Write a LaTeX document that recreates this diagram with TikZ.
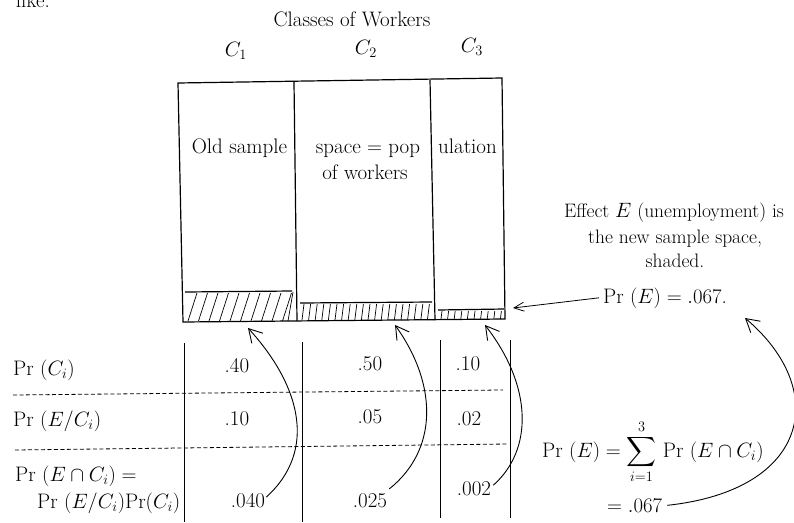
\documentclass[tikz,border=0pt]{standalone}
\usepackage{exscale}
\usetikzlibrary{arrows.meta,calc}
\begin{document}
\begin{tikzpicture}[x=1pt,y=-1pt,
  every node/.style={font=\fontsize{21}{25}\selectfont, inner sep=0pt},
  txt/.style={anchor=base},
  lbl/.style={anchor=base west},
  small/.style={font=\fontsize{19.5}{23}\selectfont},
  frame/.style={line width=1.2pt},
  hatch/.style={line width=0.7pt},
  tline/.style={line width=1pt},
  sep/.style={dash pattern=on 4pt off 2.5pt, line width=0.8pt},
  curvearrow/.style={line width=0.9pt, -{Straight Barb[length=13pt,width=15pt,line width=0.9pt]}},
  pointer/.style={line width=0.8pt, -{Straight Barb[length=10pt,width=9pt,line width=0.8pt]}},
]
\clip (0,0) rectangle (794,522);

% stray fragment at top left
\node[anchor=base east] (like) at (50,7) {like.};

% headings
\node[txt] (title) at (352,27) {Classes of Workers};
\node[txt] (c1) at (236,56) {$C_1$};
\node[txt] (c2) at (366,54) {$C_2$};
\node[txt] (c3) at (472,52) {$C_3$};

% sample space box
\coordinate (tl) at (178,83);
\coordinate (t1) at (294,82);
\coordinate (t2) at (430,80);
\coordinate (tr) at (502,78);
\coordinate (bl) at (183,322);
\coordinate (b1) at (297,321);
\coordinate (b2) at (435,320);
\coordinate (br) at (505,319);
\draw[frame] (bl) -- (tl) -- (tr) -- (br) -- cycle;
\draw[frame] (t1) -- (b1);
\draw[frame] (t2) -- (b2);

\node[txt] (old) at (239.5,153) {Old sample};
\node[txt] (space) at (368,153) {space $=$ pop};
\node[txt] (ul) at (467.5,153) {ulation};
\node[txt] (ofw) at (365,179) {of workers};

% shaded event E
\draw[frame] (185,292) -- (292,291);
\draw[frame] (300,303) -- (432,302);
\draw[frame] (438,310) -- (504,309);
\foreach \i in {0,...,9} \draw[hatch] (188+10.5*\i,321) -- (197+10.5*\i,293);
\draw[hatch] (288,321) -- (293,292);
\foreach \i in {0,...,19} \draw[hatch] (302+6.6*\i,320) -- (304+6.6*\i,304);
\foreach \i in {0,...,9} \draw[hatch] (441+6.6*\i,319) -- (442+6.6*\i,311);

\coordinate (h1) at (248,328);
\coordinate (h2) at (395,325);
\coordinate (h3) at (485,325);
\coordinate (hall) at (513,308);
\coordinate (petip) at (745,318);

% annotation
\node[txt,small] (eff1) at (674,217) {Effect $E$ (unemployment) is};
\node[txt,small] (eff2) at (675,243) {the new sample space,};
\node[txt,small] (eff3) at (675,267) {shaded.};
\node[txt] (pe) at (665,303) {Pr $(E) = .067$.};
\draw[pointer] ([xshift=-4pt]pe.west) -- (hall);

% table
\draw[tline] (184,343) -- (184,522);
\draw[tline] (302,342) -- (302,522);
\draw[tline] (440,340) -- (440,518);
\draw[tline] (510,340) -- (510,518);
\draw[sep] (13,395) -- (503,390);
\draw[sep] (15,450) -- (508,444);

\node[lbl] (r1) at (13,375) {Pr $(C_i)$};
\node[lbl] (r2) at (13,426) {Pr $(E/C_i)$};
\node[lbl] (r3) at (15,481) {Pr $(E \cap C_i) =$};
\node[lbl] (r3b) at (37,508) {Pr $(E/C_i)$Pr$(C_i)$};

\node[txt] (a1) at (237,372) {.40};
\node[txt] (b1n) at (370,370) {.50};
\node[txt] (c1n) at (468,370) {.10};
\node[txt] (a2) at (237,425) {.10};
\node[txt] (b2n) at (370,423) {.05};
\node[txt] (c2n) at (469,425) {.02};
\node[txt] (a3) at (248,507) {.040};
\node[txt] (b3) at (370,507) {.025};
\node[txt] (c3n) at (474,495) {.002};

\draw[curvearrow] ([shift={(1,-3)}]a3.east) .. controls (318,450) and (300,385) .. (h1);
\draw[curvearrow] ([shift={(2,-4)}]b3.north east) .. controls (438,450) and (438,385) .. (h2);
\draw[curvearrow] ([shift={(2,-3)}]c3n.east) .. controls (533,450) and (533,387) .. (h3);

% total
\node[lbl] (sum) at (542,457) {Pr $(E) = \displaystyle\sum_{i=1}^{3}$ Pr $(E \cap C_i)$};
\node[lbl] (tot) at (607,512) {$= .067$};
\draw[curvearrow] ([shift={(5,0)}]tot.east) .. controls (810,490) and (830,390) .. (petip);
\end{tikzpicture}
\end{document}
